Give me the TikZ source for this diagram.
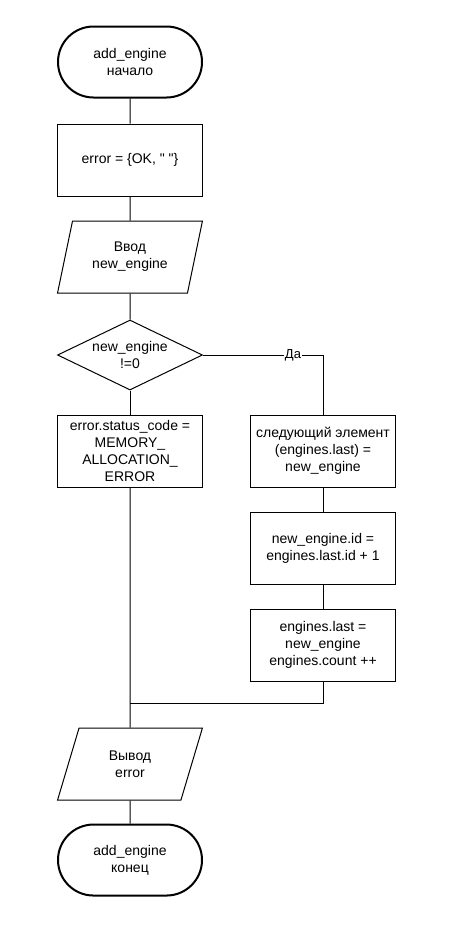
\documentclass[tikz,border=0pt]{standalone}
\usepackage{fontspec}
\setmainfont{Liberation Sans}
\usetikzlibrary{positioning,shapes.misc,shapes.geometric}

\begin{document}
\begin{tikzpicture}[x=1pt,y=1pt,node distance=24pt,line width=1pt,
  every node/.style={font=\fontsize{14}{17}\selectfont,align=center,inner sep=0pt},
  term/.style={draw,rounded rectangle,line width=2pt,minimum width=144pt,minimum height=71pt},
  proc/.style={draw,rectangle,minimum width=145pt,minimum height=72pt},
  io/.style={draw,trapezium,trapezium left angle=71.57,trapezium right angle=108.43,
    trapezium stretches=true,minimum width=145pt,minimum height=72pt},
  cond/.style={draw,diamond,aspect=2,minimum width=145pt,minimum height=70pt}]
	 \useasboundingbox (0,0) rectangle (476,-945);
	 \node[term] (start) at (130,-62) {add\_engine\\начало};
	 \node[proc] (init) [below=25pt of start] {error = \{OK, \textquotedbl\ \textquotedbl\}};
	 \node[io] (input) [below=of init] {Ввод\\new\_engine};
	 \node[cond] (check) [below=26pt of input] {new\_engine\\!=0};
	 \node[proc] (fail) [below=of check] {error.status\_code =\\MEMORY\_\\ALLOCATION\_\\ERROR};
	 \node[proc] (next) [right=47pt of fail] {следующий элемент\\(engines.last) =\\new\_engine};
	 \node[proc] (setid) [below=of next] {new\_engine.id =\\engines.last.id + 1};
	 \node[proc] (setlast) [below=of setid] {engines.last =\\new\_engine\\engines.count ++};
	 \node[io] (output) [below=240pt of fail] {Вывод\\error};
	 \node[term] (stop) [below=23pt of output] {add\_engine\\конец};
	 \coordinate[above=of output.north] (join);

	 \draw (start) -- (init);
	 \draw (init) -- (input);
	 \draw (input) -- (check);
	 \draw (check) -- (fail);
	 \draw (check.east) -| node[pos=0.375,fill=white,inner sep=1pt,font=\fontsize{13}{15}\selectfont] {Да} (next.north);
	 \draw (next) -- (setid);
	 \draw (setid) -- (setlast);
	 \draw (fail) -- (output);
	 \draw (setlast.south) |- (join);
	 \draw (output) -- (stop);
\end{tikzpicture}
\end{document}
